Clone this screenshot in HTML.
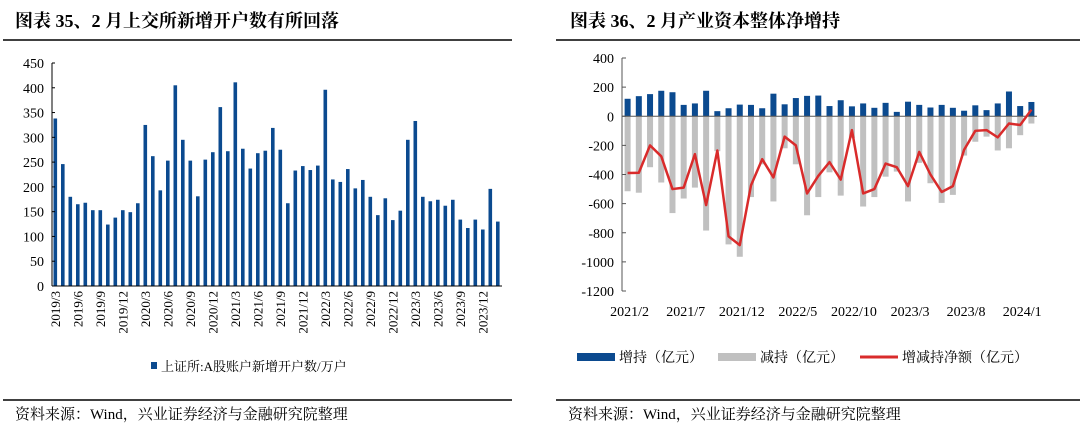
<!DOCTYPE html>
<html><head><meta charset="utf-8"><style>
html,body{margin:0;padding:0;background:#fff;width:1080px;height:434px;overflow:hidden}
svg text{font-family:"Liberation Serif","Noto Serif CJK SC",serif;fill:#000}
</style></head><body>
<svg id="s" width="1080" height="434" xmlns="http://www.w3.org/2000/svg">
<text x="15" y="27" font-size="18" font-weight="bold">图表 35、2 月上交所新增开户数有所回落</text>
<line x1="3" y1="40" x2="512" y2="40" stroke="#000" stroke-width="1.5"/>
<text x="570" y="27" font-size="18" font-weight="bold">图表 36、2 月产业资本整体净增持</text>
<line x1="556" y1="40" x2="1080" y2="40" stroke="#000" stroke-width="1.5"/>
<line x1="3" y1="400" x2="512" y2="400" stroke="#000" stroke-width="1.5"/>
<line x1="556" y1="400" x2="1080" y2="400" stroke="#000" stroke-width="1.5"/>
<text x="15" y="419" font-size="15">资料来源：Wind，兴业证券经济与金融研究院整理</text>
<text x="568" y="419" font-size="15">资料来源：Wind，兴业证券经济与金融研究院整理</text>
<g id="L"></g><g id="R"></g>
<rect x="151" y="362" width="6" height="7" fill="#0b4a8f"/>
<text x="161" y="371" font-size="13">上证所:A股账户新增开户数/万户</text>
<rect x="577" y="353" width="38" height="8" fill="#0b4a8f"/>
<text x="619" y="362" font-size="14">增持（亿元）</text>
<rect x="718" y="353" width="38" height="8" fill="#c0c0c0"/>
<text x="760" y="362" font-size="14">减持（亿元）</text>
<line x1="860" y1="357" x2="898" y2="357" stroke="#d92b2b" stroke-width="3"/>
<text x="902" y="362" font-size="14">增减持净额（亿元）</text>
</svg>
<script>
const leftValues=[338,246,180,165,168,153,153,124,138,153,149,167,325,262,193,253,405,295,253,181,255,270,361,272,411,277,237,268,273,319,275,167,233,242,234,243,396,215,210,236,197,214,180,143,177,133,152,295,333,180,171,174,162,174,134,117,134,114,196,130];
const leftTicks=[0,50,100,150,200,250,300,350,400,450];
const leftLabelIdx=[0,3,6,9,12,15,18,21,24,27,30,33,36,39,42,45,48,51,54,57];
const rightCats=["2021/2","2021/7","2021/12","2022/5","2022/10","2023/3","2023/8","2024/1"];
const buyValues=[120,138,152,175,165,78,88,175,35,55,80,78,55,155,82,125,140,142,70,110,68,88,58,92,30,100,78,60,78,58,38,75,42,88,170,70,98];
const sellValues=[-515,-525,-350,-455,-665,-565,-490,-785,-240,-880,-965,-555,-330,-585,-220,-330,-680,-555,-385,-545,-150,-620,-555,-415,-380,-585,-320,-460,-595,-540,-270,-175,-140,-235,-220,-130,-50];
const netValues=[-390,-388,-200,-275,-500,-490,-260,-610,-235,-825,-885,-475,-295,-420,-140,-200,-530,-410,-315,-435,-95,-530,-500,-325,-350,-480,-245,-400,-520,-480,-230,-100,-95,-145,-50,-60,45];
const rightTicks=[400,200,0,-200,-400,-600,-800,-1000,-1200];
const NS="http://www.w3.org/2000/svg";
function mk(p,t,a){const e=document.createElementNS(NS,t);for(const k in a)e.setAttribute(k,a[k]);p.appendChild(e);return e;}
// Left
const L=document.getElementById('L');
const lx0=52,lx1=502,ly0=286,ly1=63;
const ly=v=>ly0-(v/450)*(ly0-ly1);
const lstep=(lx1-lx0)/leftValues.length;
leftValues.forEach((v,i)=>{const r=mk(L,'rect',{x:lx0+i*lstep+1.5,y:ly(v),width:3.6,height:ly0-ly(v),fill:'#0b4a8f'});

});
let a=mk(L,'line',{x1:lx0,y1:ly1,x2:lx0,y2:ly0,stroke:'#000'});


a=mk(L,'line',{x1:lx0,y1:ly0,x2:lx1,y2:ly0,stroke:'#000'});


leftTicks.forEach(t=>{mk(L,'line',{x1:lx0,y1:ly(t),x2:lx0+3,y2:ly(t),stroke:'#000'});
const tx=mk(L,'text',{x:lx0-8,y:ly(t)+5,'font-size':14,'text-anchor':'end'});tx.textContent=t;

});
leftLabelIdx.forEach(i=>{const m=i+3,yr=2019+Math.floor((m-1)/12),mo=(m-1)%12+1;const cx=lx0+(i+0.5)*lstep;
const tx=mk(L,'text',{x:0,y:0,'font-size':13,'text-anchor':'end',transform:`translate(${cx+4},${ly0+5}) rotate(-90)`});tx.textContent=yr+'/'+mo;

});
// Right
const R=document.getElementById('R');
const rx0=622,rx1=1037,ry400=58,ryM=291;
const ry=v=>ry400+(400-v)/1600*(ryM-ry400);
const rstep=(rx1-rx0)/buyValues.length;
const rc=i=>rx0+(i+0.5)*rstep;
sellValues.forEach((v,i)=>{const r=mk(R,'rect',{x:rc(i)-3,y:ry(0),width:6,height:ry(v)-ry(0),fill:'#c0c0c0'});

});
buyValues.forEach((v,i)=>{const r=mk(R,'rect',{x:rc(i)-3,y:ry(v),width:6,height:ry(0)-ry(v),fill:'#0b4a8f'});

});
a=mk(R,'line',{x1:rx0,y1:ry(0),x2:rx1,y2:ry(0),stroke:'#555'});


a=mk(R,'line',{x1:rx0,y1:ry(400),x2:rx0,y2:ry(-1200),stroke:'#555'});


rightTicks.forEach(t=>{mk(R,'line',{x1:rx0,y1:ry(t),x2:rx0+4,y2:ry(t),stroke:'#555'});
const tx=mk(R,'text',{x:rx0-8,y:ry(t)+5,'font-size':14,'text-anchor':'end'});tx.textContent=t;

});
rightCats.forEach((c,k)=>{const tx=mk(R,'text',{x:rc(k*5)+2,y:316,'font-size':14,'text-anchor':'middle'});tx.textContent=c;

});
const pl=mk(R,'polyline',{points:netValues.map((v,i)=>rc(i)+','+ry(v)).join(' '),fill:'none',stroke:'#d92b2b','stroke-width':2.5,'stroke-linejoin':'round'});


</script>
</body></html>
